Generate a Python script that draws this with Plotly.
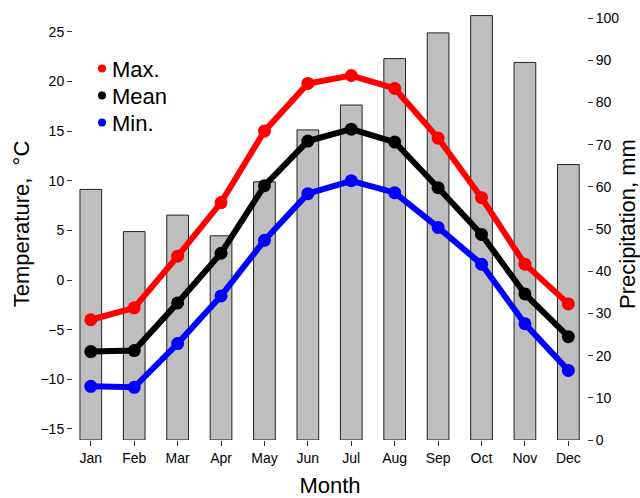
import plotly.graph_objects as go

months = ["Jan", "Feb", "Mar", "Apr", "May", "Jun", "Jul", "Aug", "Sep", "Oct", "Nov", "Dec"]
precip_mm = [59.4, 49.4, 53.3, 48.4, 61.2, 73.5, 79.4, 90.4, 96.5, 100.6, 89.5, 65.3]
t_max = [-4.0, -2.8, 2.4, 7.8, 15.0, 19.8, 20.6, 19.3, 14.3, 8.3, 1.6, -2.4]
t_mean = [-7.2, -7.1, -2.3, 2.7, 9.5, 14.0, 15.2, 13.9, 9.3, 4.6, -1.4, -5.7]
t_min = [-10.7, -10.8, -6.4, -1.6, 4.0, 8.7, 10.0, 8.8, 5.3, 1.6, -4.4, -9.1]

temp_ticks = [-15, -10, -5, 0, 5, 10, 15, 20, 25]
precip_ticks = list(range(0, 101, 10))

FONT = "Liberation Sans, Arial, sans-serif"
W, H = 640, 498
ML, MR, MT, MB = 73, 53, 8, 58
PW, PH = W - ML - MR, H - MT - MB
x = list(range(len(months)))


def px_to_paper(px, py):
    return (px - ML) / PW, (H - MB - py) / PH


fig = go.Figure()

# precipitation bars on the right-hand axis (drawn underneath)
fig.add_trace(go.Bar(
    x=x, y=precip_mm, width=0.5, yaxis="y",
    marker=dict(color="#bebebe", line=dict(color="#222222", width=1)),
    showlegend=False, hoverinfo="y",
))

series = [("Max.", t_max, "#ff0000"), ("Mean", t_mean, "#000000"), ("Min.", t_min, "#0000ff")]
for name, vals, col in series:
    fig.add_trace(go.Scatter(
        x=x, y=vals, yaxis="y2", mode="lines+markers", name=name,
        line=dict(color=col, width=6), marker=dict(color=col, size=13),
        showlegend=False,
    ))

# hand-placed key: a coloured dot and a label per series
shapes, annotations = [], []
for i, (name, vals, col) in enumerate(series):
    kx, ky = px_to_paper(102, 68.5 + 27 * i)
    shapes.append(dict(
        type="circle", xref="paper", yref="paper", xsizemode="pixel", ysizemode="pixel",
        xanchor=kx, yanchor=ky, x0=-4, x1=4, y0=-4, y1=4,
        fillcolor=col, line=dict(width=0),
    ))
    tx, ty = px_to_paper(110, 69.5 + 27 * i)
    annotations.append(dict(
        xref="paper", yref="paper", x=tx, y=ty, xanchor="left", yanchor="middle",
        text=name, showarrow=False, font=dict(size=22, family=FONT, color="black"),
    ))

axis_common = dict(
    showgrid=False, zeroline=False, showline=False, automargin=False,
    ticks="outside", ticklen=5, tickcolor="#333", tickfont=dict(size=14),
)

fig.update_layout(
    width=W, height=H,
    margin=dict(l=ML, r=MR, t=MT, b=MB),
    paper_bgcolor="white", plot_bgcolor="white",
    font=dict(family=FONT, color="black"),
    showlegend=False,
    shapes=shapes, annotations=annotations,
    xaxis=dict(
        range=[-0.41, 11.43], tickmode="array", tickvals=x, ticktext=months,
        title=dict(text="Month", font=dict(size=22), standoff=13),
        **axis_common,
    ),
    yaxis=dict(
        side="right", range=[0, 102.4], tickvals=precip_ticks,
        title=dict(text="Precipitation, mm", font=dict(size=22), standoff=8),
        **axis_common,
    ),
    yaxis2=dict(
        overlaying="y", side="left", range=[-16.11, 27.4], tickvals=temp_ticks,
        title=dict(text="Temperature, \u00a0\u00b0C", font=dict(size=22), standoff=4),
        **axis_common,
    ),
)

fig.write_html("out.html")
